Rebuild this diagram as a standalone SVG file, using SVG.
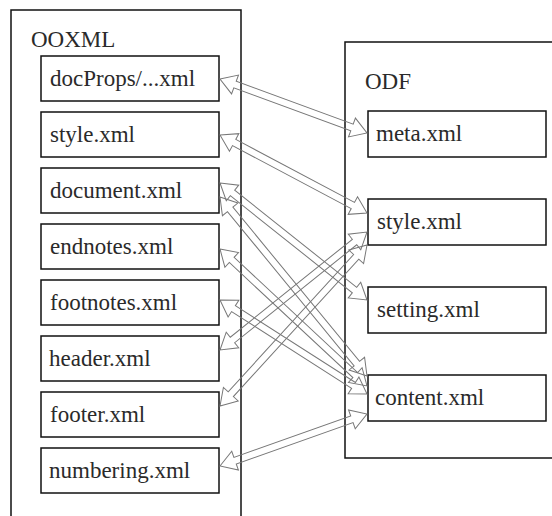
<svg xmlns="http://www.w3.org/2000/svg" width="552" height="516" viewBox="0 0 552 516">
<style>
.outer{fill:none;stroke:#111;stroke-width:1.5}
.box{fill:#fff;stroke:#111;stroke-width:1.5}
.lbl{font-family:"Liberation Serif","Times New Roman",serif;font-size:23px;fill:#2a2a2a}
.arr{fill:none;stroke:#777;stroke-width:1}
</style>
<rect width="552" height="516" fill="#fff"/>
<g id="ooxml">
<rect class="outer" x="11" y="10" width="230" height="520"/>
<text class="lbl" x="31" y="47">OOXML</text>
</g>
<g id="odf">
<rect class="outer" x="345" y="42" width="220" height="416"/>
<text class="lbl" x="365" y="89">ODF</text>
</g>
<g id="n-docprops"><rect class="box" x="41" y="56" width="178" height="45"/><text class="lbl" x="50" y="86">docProps/...xml</text></g>
<g id="n-style"><rect class="box" x="41" y="112" width="178" height="45"/><text class="lbl" x="50" y="142">style.xml</text></g>
<g id="n-document"><rect class="box" x="41" y="168" width="178" height="45"/><text class="lbl" x="50" y="198">document.xml</text></g>
<g id="n-endnotes"><rect class="box" x="41" y="224" width="178" height="45"/><text class="lbl" x="50" y="254">endnotes.xml</text></g>
<g id="n-footnotes"><rect class="box" x="41" y="280" width="178" height="45"/><text class="lbl" x="50" y="310">footnotes.xml</text></g>
<g id="n-header"><rect class="box" x="41" y="336" width="178" height="45"/><text class="lbl" x="49" y="366">header.xml</text></g>
<g id="n-footer"><rect class="box" x="41" y="392" width="178" height="45"/><text class="lbl" x="50" y="422">footer.xml</text></g>
<g id="n-numbering"><rect class="box" x="41" y="448" width="178" height="45"/><text class="lbl" x="49" y="478">numbering.xml</text></g>
<g id="n-meta"><rect class="box" x="368" y="111" width="178" height="46"/><text class="lbl" x="376" y="141">meta.xml</text></g>
<g id="n-odfstyle"><rect class="box" x="368" y="199" width="178" height="46"/><text class="lbl" x="377" y="229">style.xml</text></g>
<g id="n-setting"><rect class="box" x="368" y="287" width="178" height="46"/><text class="lbl" x="377" y="317">setting.xml</text></g>
<g id="n-content"><rect class="box" x="368" y="375" width="178" height="46"/><text class="lbl" x="375" y="405">content.xml</text></g>
<g id="connectors">
<path class="arr" transform="translate(220,79) rotate(20.17)" d="M0,0 L16,-10 L16,-3.5 L140.6,-3.5 L140.6,-10 L156.6,0 L140.6,10 L140.6,3.5 L16,3.5 L16,10 Z"/>
<path class="arr" transform="translate(220,135) rotate(27.95)" d="M0,0 L16,-10 L16,-3.5 L150.4,-3.5 L150.4,-10 L166.4,0 L150.4,10 L150.4,3.5 L16,3.5 L16,10 Z"/>
<path class="arr" transform="translate(220,183) rotate(38.52)" d="M0,0 L16,-10 L16,-3.5 L171.9,-3.5 L171.9,-10 L187.9,0 L171.9,10 L171.9,3.5 L16,3.5 L16,10 Z"/>
<path class="arr" transform="translate(220,197) rotate(50.60)" d="M0,0 L16,-10 L16,-3.5 L215.6,-3.5 L215.6,-10 L231.6,0 L215.6,10 L215.6,3.5 L16,3.5 L16,10 Z"/>
<path class="arr" transform="translate(220,249) rotate(42.98)" d="M0,0 L16,-10 L16,-3.5 L184.9,-3.5 L184.9,-10 L200.9,0 L184.9,10 L184.9,3.5 L16,3.5 L16,10 Z"/>
<path class="arr" transform="translate(220,300) rotate(32.60)" d="M0,0 L16,-10 L16,-3.5 L158.5,-3.5 L158.5,-10 L174.5,0 L158.5,10 L158.5,3.5 L16,3.5 L16,10 Z"/>
<path class="arr" transform="translate(220,350) rotate(-38.75)" d="M0,0 L16,-10 L16,-3.5 L172.5,-3.5 L172.5,-10 L188.5,0 L172.5,10 L172.5,3.5 L16,3.5 L16,10 Z"/>
<path class="arr" transform="translate(220,406) rotate(-47.60)" d="M0,0 L16,-10 L16,-3.5 L202,-3.5 L202,-10 L218,0 L202,10 L202,3.5 L16,3.5 L16,10 Z"/>
<path class="arr" transform="translate(220,466) rotate(-19.48)" d="M0,0 L16,-10 L16,-3.5 L139.9,-3.5 L139.9,-10 L155.9,0 L139.9,10 L139.9,3.5 L16,3.5 L16,10 Z"/>
</g>
</svg>
